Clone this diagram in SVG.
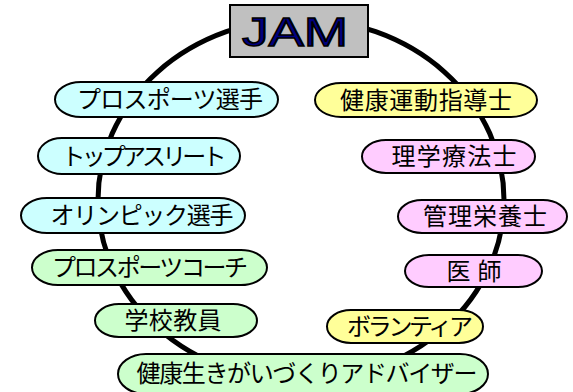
<svg xmlns="http://www.w3.org/2000/svg" width="573" height="392" viewBox="0 0 573 392">
<style>
.n{stroke:#000;stroke-width:2}
.c{fill:#ccffff}.g{fill:#ccffcc}.y{fill:#ffff99}.p{fill:#ffccff}
.t{font-family:"Noto Sans CJK JP","Noto Sans CJK SC",sans-serif;font-size:24px;fill:#000;text-anchor:middle}
</style>
<rect width="573" height="392" fill="#fff"/>
<g id="connectors">
<ellipse cx="301" cy="200" rx="203" ry="181" fill="none" stroke="#000" stroke-width="5"/>
</g>
<g id="jam">
<rect x="230" y="5" width="138" height="52" fill="#c0c0c0" stroke="#000" stroke-width="2"/>
<text x="295" y="46" font-family="Liberation Sans, Arial, sans-serif" font-size="41" fill="#000080" stroke="#000" stroke-width="1.5" text-anchor="middle" textLength="106" lengthAdjust="spacingAndGlyphs">JAM</text>
</g>
<g id="n1"><rect class="n c" x="55" y="82" width="223" height="35" rx="26" ry="17.5"/><text class="t" x="170" y="108" textLength="186">プロスポーツ選手</text></g>
<g id="n2"><rect class="n c" x="38" y="138" width="202" height="36" rx="24" ry="18"/><text class="t" x="144" y="165" textLength="165">トップアスリート</text></g>
<g id="n3"><rect class="n y" x="315" y="83" width="222" height="34" rx="26" ry="17"/><text class="t" x="426" y="109" textLength="172">健康運動指導士</text></g>
<g id="n4"><rect class="n p" x="362" y="140" width="173" height="33" rx="24" ry="16.5"/><text class="t" x="454" y="165" textLength="125">理学療法士</text></g>
<g id="n5"><rect class="n c" x="21" y="198" width="224" height="35" rx="26" ry="17.5"/><text class="t" x="142" y="224" textLength="183">オリンピック選手</text></g>
<g id="n6"><rect class="n g" x="32" y="250" width="235" height="35" rx="26" ry="17.5"/><text class="t" x="150" y="276" textLength="196">プロスポーツコーチ</text></g>
<g id="n7"><rect class="n g" x="95" y="304" width="162" height="33" rx="24" ry="16.5"/><text class="t" x="173" y="329" textLength="97">学校教員</text></g>
<g id="n8"><rect class="n p" x="398" y="200" width="169" height="33" rx="24" ry="16.5"/><text class="t" x="485" y="225" textLength="124">管理栄養士</text></g>
<g id="n9"><rect class="n p" x="405" y="255" width="137" height="32" rx="24" ry="16"/><text class="t" x="474" y="280" textLength="55">医 師</text></g>
<g id="n10"><rect class="n y" x="327" y="310" width="156" height="33" rx="24" ry="16.5"/><text class="t" x="410" y="335" textLength="126">ボランティア</text></g>
<g id="n11"><rect class="n g" x="118" y="354" width="370" height="40" rx="28" ry="20"/><text class="t" x="307" y="382" textLength="341">健康生きがいづくりアドバイザー</text></g>
</svg>
